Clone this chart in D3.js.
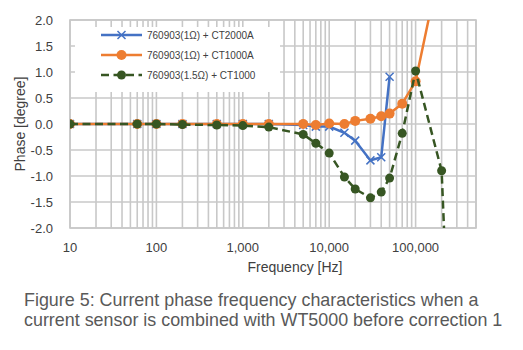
<!DOCTYPE html>
<html>
<head>
<meta charset="utf-8">
<script src="https://cdn.jsdelivr.net/npm/d3@7"></script>
<style>
  body { margin: 0; background: #fff; }
  text { font-family: "Liberation Sans", Arial, sans-serif; }
</style>
</head>
<body>
<div id="chart"></div>
<script>
// Phase vs frequency, three sensor combinations
const freqs = [10, 60, 100, 200, 500, 1000, 2000, 5000, 7000, 10000, 15000, 20000, 30000, 40000, 50000, 70000, 100000, 200000, 300000];
const ct2000Phase = [0, 0, 0, 0, 0, 0, 0, -0.02, -0.05, -0.05, -0.17, -0.32, -0.7, -0.64, 0.91];
const ct1000APhase = [0, 0, 0, 0, 0, 0, 0, 0, -0.02, 0.01, 0, 0.06, 0.1, 0.15, 0.2, 0.39, 0.82, 3.2];
const ct1000Phase = [0, 0, 0, -0.01, -0.02, -0.03, -0.06, -0.2, -0.37, -0.56, -1.02, -1.25, -1.42, -1.31, -1.04, -0.18, 1.02, -0.9, -8];
const seriesNames = ["760903(1\u03a9) + CT2000A", "760903(1\u03a9) + CT1000A", "760903(1.5\u03a9) + CT1000"];
const xTicks = [10, 100, 1000, 10000, 100000];
const yTicks = [-2, -1.5, -1, -0.5, 0, 0.5, 1, 1.5, 2];

const W = 523, H = 350;
const plot = { left: 70, right: 476, top: 20, bottom: 228 };

const svg = d3.select("#chart").append("svg")
    .attr("width", W).attr("height", H);
svg.append("rect").attr("width", W).attr("height", H).attr("fill", "#fff");

const x = d3.scaleLog().domain([10, 500000]).range([plot.left, plot.right]);
const y = d3.scaleLinear().domain([-2, 2]).range([plot.bottom, plot.top]);

const gridColor = "#c8c8c8";

// minor + major vertical grid
const vLines = [];
for (let p = 1; p <= 5; p++) {
    for (let m = 1; m <= 9; m++) {
        const v = m * Math.pow(10, p);
        if (v <= 500000) vLines.push(v);
    }
}
svg.append("g").selectAll("line").data(vLines).join("line")
    .attr("x1", d => x(d)).attr("x2", d => x(d))
    .attr("y1", plot.top).attr("y2", plot.bottom)
    .attr("stroke", gridColor).attr("stroke-width", 1.6);

svg.append("g").selectAll("line").data(yTicks).join("line")
    .attr("x1", plot.left).attr("x2", plot.right)
    .attr("y1", d => y(d)).attr("y2", d => y(d))
    .attr("stroke", gridColor).attr("stroke-width", 1.6);

svg.append("rect")
    .attr("x", plot.left).attr("y", plot.top)
    .attr("width", plot.right - plot.left).attr("height", plot.bottom - plot.top)
    .attr("fill", "none").attr("stroke", gridColor).attr("stroke-width", 1.6);

// tick labels
svg.append("g").selectAll("text").data(yTicks).join("text")
    .attr("x", 53).attr("y", d => y(d) + 4.5)
    .attr("text-anchor", "end").attr("font-size", 13).attr("fill", "#404040")
    .text(d => d3.format(".1f")(d).replace("\u2212", "-"));

svg.append("g").selectAll("text").data(xTicks).join("text")
    .attr("x", d => x(d)).attr("y", 252)
    .attr("text-anchor", "middle").attr("font-size", 13).attr("fill", "#404040")
    .text(d => d3.format(",")(d));

svg.append("text")
    .attr("transform", `translate(25,${(plot.top + plot.bottom) / 2}) rotate(-90)`)
    .attr("text-anchor", "middle").attr("font-size", 14).attr("fill", "#404040")
    .text("Phase [degree]");

svg.append("text")
    .attr("x", 295).attr("y", 272)
    .attr("text-anchor", "middle").attr("font-size", 14).attr("fill", "#404040")
    .text("Frequency [Hz]");

// legend box (white, hides grid behind)
svg.append("rect")
    .attr("x", 75).attr("y", 27).attr("width", 205).attr("height", 65)
    .attr("fill", "#fff");

// series
svg.append("clipPath").attr("id", "clip").append("rect")
    .attr("x", plot.left).attr("y", plot.top)
    .attr("width", plot.right - plot.left).attr("height", plot.bottom - plot.top);

const series = [
    { name: seriesNames[0], values: ct2000Phase, color: "#4472c4", dash: null, marker: "x" },
    { name: seriesNames[1], values: ct1000APhase, color: "#ed7d31", dash: null, marker: "circle", r: 5 },
    { name: seriesNames[2], values: ct1000Phase, color: "#375623", dash: "8,4.5", marker: "circle", r: 4.5 }
];

const line = d3.line().x(d => x(d[0])).y(d => y(d[1]));
const gSeries = svg.append("g").attr("clip-path", "url(#clip)");

function drawMarker(g, s, cx, cy) {
    if (s.marker === "x") {
        g.append("path")
            .attr("d", `M${cx - 4},${cy - 4}L${cx + 4},${cy + 4}M${cx - 4},${cy + 4}L${cx + 4},${cy - 4}`)
            .attr("stroke", s.color).attr("stroke-width", 1.5);
    } else {
        g.append("circle").attr("cx", cx).attr("cy", cy).attr("r", s.r).attr("fill", s.color);
    }
}

series.forEach(s => {
    const pts = s.values.map((v, i) => [freqs[i], v]);
    gSeries.append("path").datum(pts)
        .attr("d", line).attr("fill", "none")
        .attr("stroke", s.color).attr("stroke-width", 2.5)
        .attr("stroke-dasharray", s.dash);
    pts.forEach(p => drawMarker(gSeries, s, x(p[0]), y(p[1])));
});

// legend entries
series.forEach((s, i) => {
    const ly = 35 + i * 20;
    svg.append("line")
        .attr("x1", 101).attr("x2", 142).attr("y1", ly).attr("y2", ly)
        .attr("stroke", s.color).attr("stroke-width", 2.5)
        .attr("stroke-dasharray", s.dash);
    drawMarker(svg, s, 121.5, ly);
    svg.append("text")
        .attr("x", 147).attr("y", ly + 3.5)
        .attr("font-size", 10).attr("fill", "#404040")
        .text(s.name);
});

// caption
const caption = ["Figure 5: Current phase frequency characteristics when a",
                 "current sensor is combined with WT5000 before correction 1"];
svg.append("g").selectAll("text").data(caption).join("text")
    .attr("x", 24).attr("y", (d, i) => 306 + i * 20)
    .attr("font-size", 17.9).attr("fill", "#595959")
    .text(d => d);
</script>
</body>
</html>
